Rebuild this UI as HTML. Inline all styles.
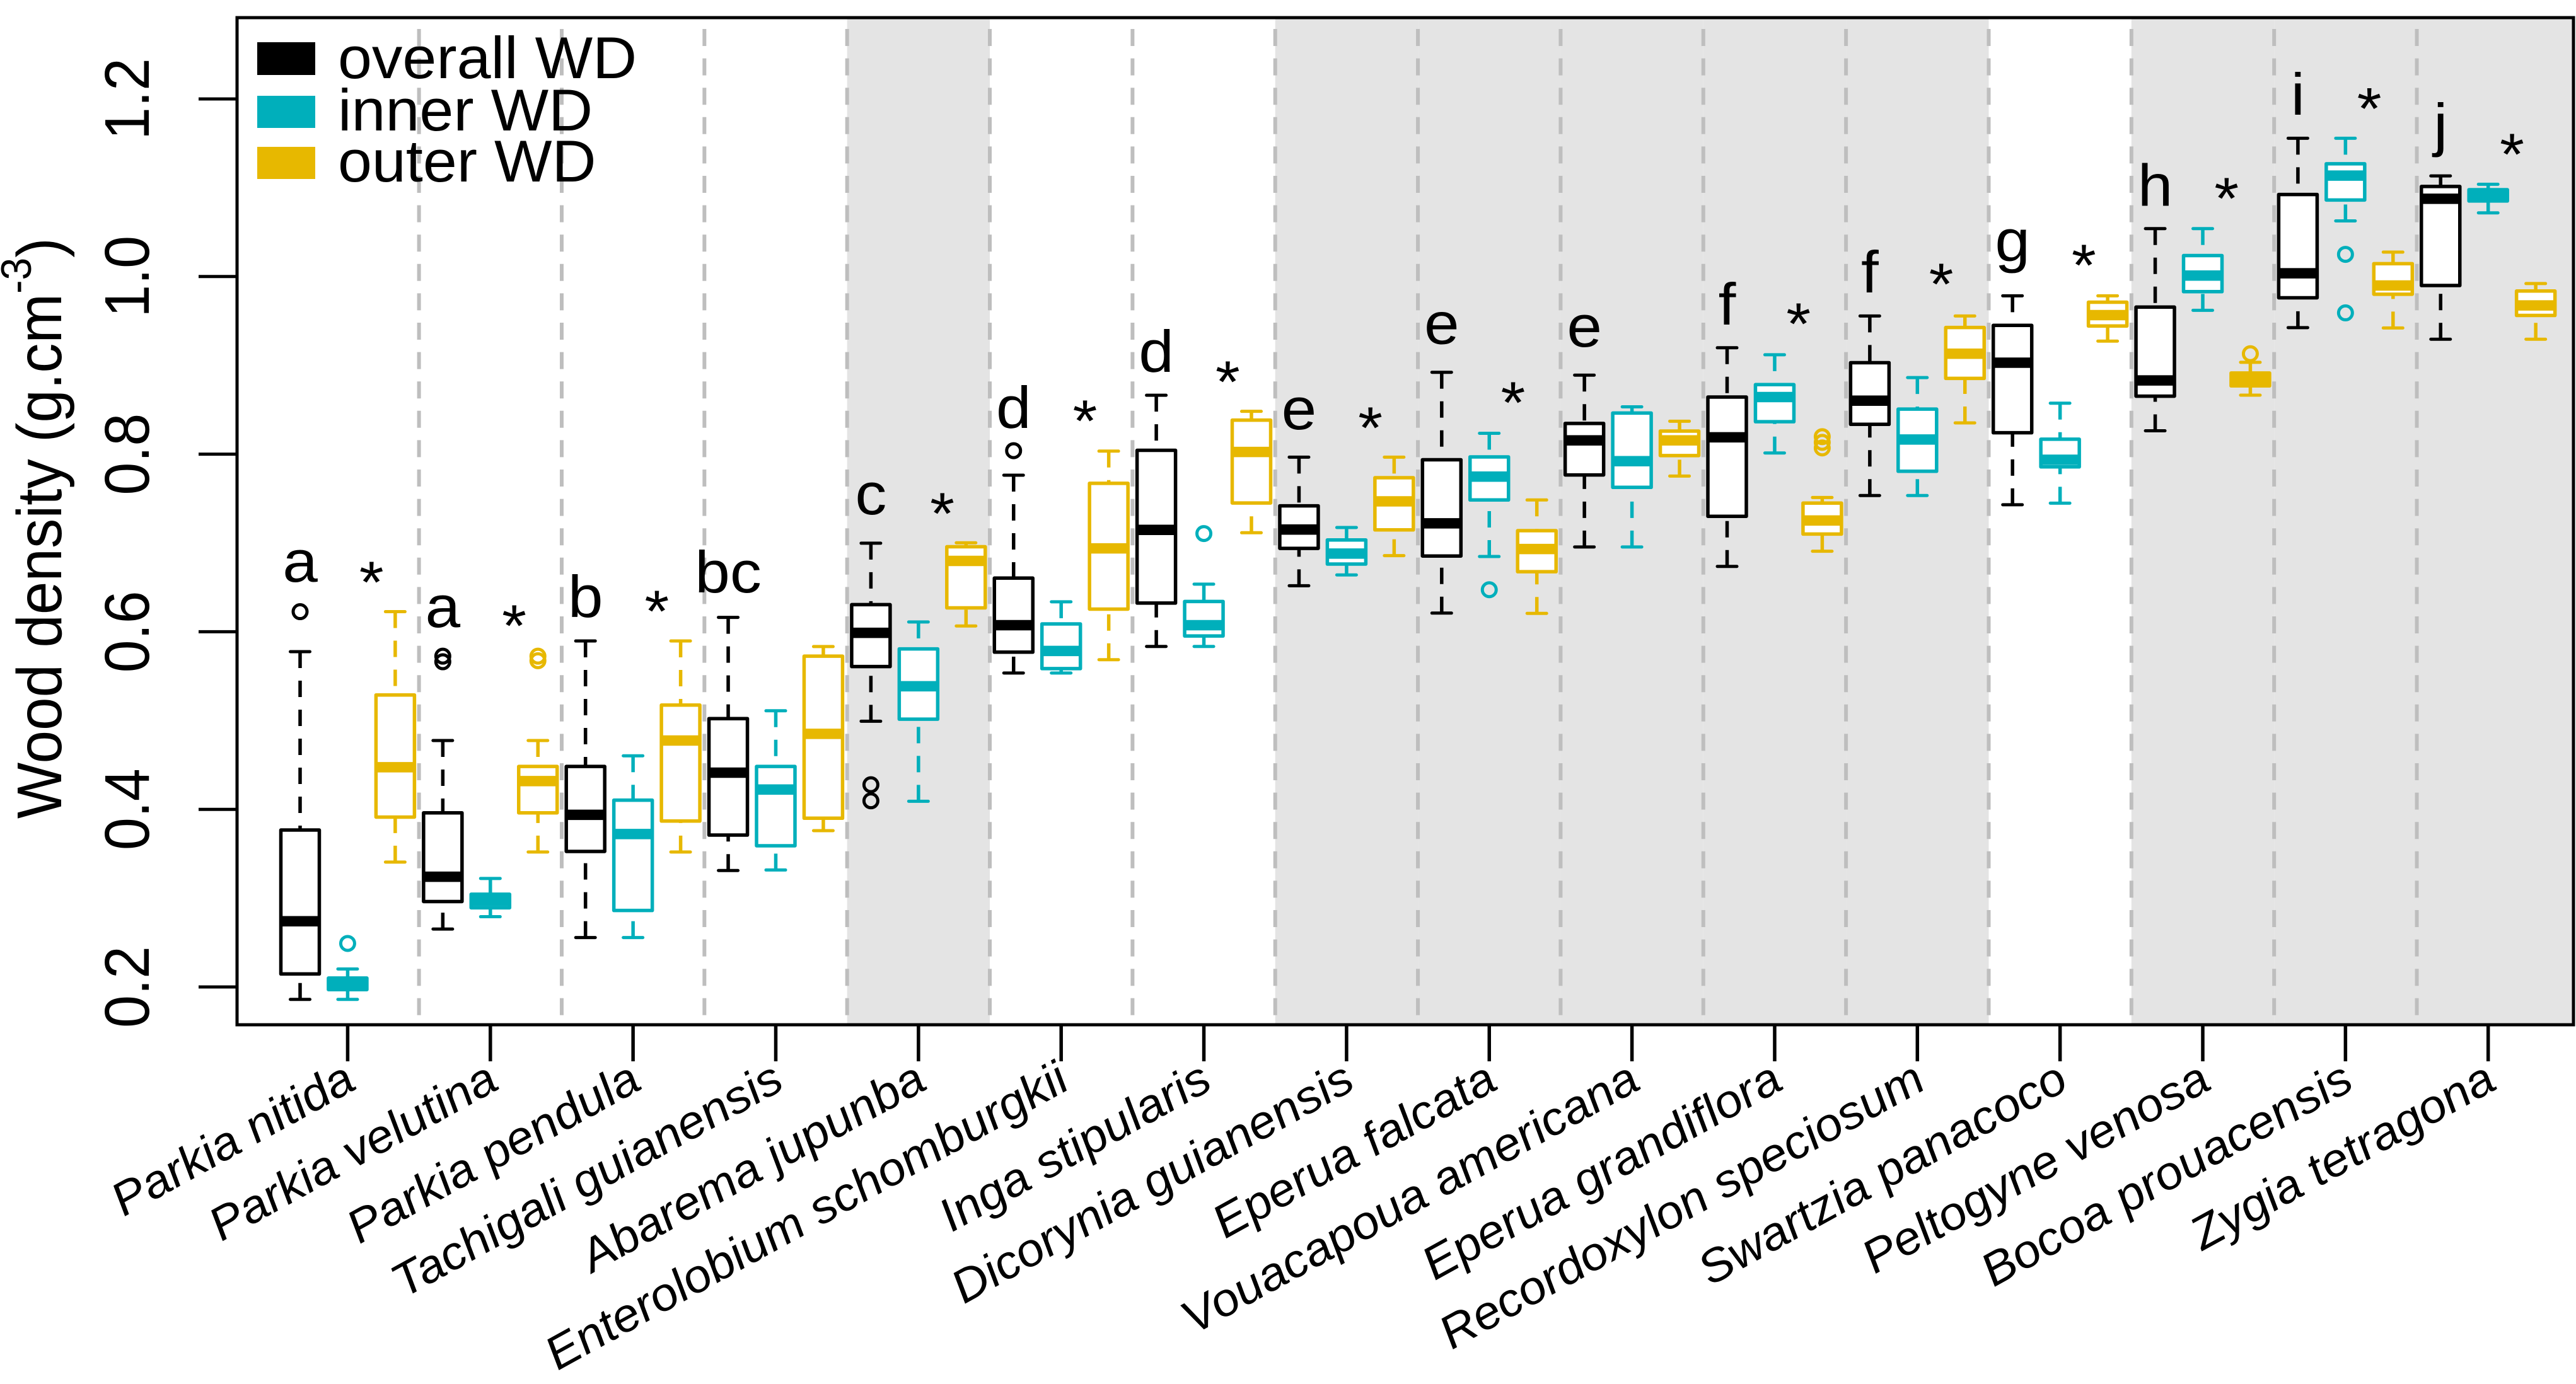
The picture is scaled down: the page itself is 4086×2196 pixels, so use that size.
<!DOCTYPE html>
<html lang="en">
<head>
<meta charset="utf-8">
<title>Wood density by species</title>
<style>
html,body{margin:0;padding:0;background:#fff;}
svg{display:block;}
text{font-family:"Liberation Sans",Arial,sans-serif;fill:#000;}
</style>
</head>
<body>
<svg id="chart" xmlns="http://www.w3.org/2000/svg" width="4086" height="2196" viewBox="0 0 4086 2196">
  <rect x="0" y="0" width="4086" height="2196" fill="#ffffff"/>
  <g id="bands"></g>
  <g id="separators"></g>
  <g id="series"></g>
  <g id="annotations"></g>
  <rect x="376" y="28" width="3706" height="1598" fill="none" stroke="#000" stroke-width="5"/>
  <g id="yaxis"></g>
  <g id="xaxis"></g>
  <text transform="translate(97,1299) rotate(-90) scale(0.945,1)" font-size="100">Wood density (g.cm<tspan dy="-48" font-size="68">-3</tspan><tspan dy="48">)</tspan></text>
  <g>
    <rect x="408" y="67" width="92" height="52" fill="#000000"/>
    <text transform="translate(536,124) scale(1,0.965)" font-size="97">overall WD</text>
    <rect x="408" y="152" width="92" height="51" fill="#00AFBB"/>
    <text transform="translate(536,207) scale(1,0.965)" font-size="97">inner WD</text>
    <rect x="408" y="233" width="92" height="51" fill="#E7B800"/>
    <text transform="translate(536,288) scale(1,0.965)" font-size="97">outer WD</text>
  </g>
</svg>
<script>
const species = ["Parkia nitida","Parkia velutina","Parkia pendula","Tachigali guianensis","Abarema jupunba","Enterolobium schomburgkii","Inga stipularis","Dicorynia guianensis","Eperua falcata","Vouacapoua americana","Eperua grandiflora","Recordoxylon speciosum","Swartzia panacoco","Peltogyne venosa","Bocoa prouacensis","Zygia tetragona"];
const yTickValues = [0.2,0.4,0.6,0.8,1.0,1.2];
const yTickLabels = ["0.2","0.4","0.6","0.8","1.0","1.2"];
const shadedSpecies = [4,7,8,9,10,11,13,14,15];

const overallLow = [0.186,0.2652,0.2556,0.3311,0.4992,0.5535,0.5834,0.6518,0.621,0.6955,0.6736,0.7534,0.743,0.8263,0.9425,0.9294];
const overallQ1 = [0.2146,0.2962,0.3526,0.371,0.5608,0.577,0.6323,0.6939,0.6853,0.7766,0.73,0.8336,0.8241,0.8653,0.9761,0.9899];
const overallMedian = [0.274,0.3241,0.3938,0.4413,0.5988,0.6074,0.7147,0.7151,0.7221,0.8155,0.819,0.8602,0.903,0.883,1.0037,1.0876];
const overallQ3 = [0.3767,0.3961,0.4483,0.5022,0.6305,0.6604,0.8043,0.7418,0.7937,0.8346,0.8643,0.903,0.945,0.9656,1.0924,1.1014];
const overallHigh = [0.5776,0.4775,0.5896,0.6162,0.6997,0.7763,0.8663,0.7966,0.8922,0.889,0.9198,0.9556,0.9783,1.054,1.1557,1.1133];
const overallOutliers = [[0.6226],[0.5725,0.5662],[],[],[0.4277,0.4096],[0.8039],[],[],[],[],[],[],[],[],[],[]];

const innerLow = [0.186,0.2791,0.2556,0.3317,0.4091,0.5535,0.5834,0.664,0.6847,0.6955,0.8013,0.7534,0.7448,0.962,1.0627,1.0717];
const innerQ1 = [0.197,0.2892,0.2861,0.359,0.5015,0.5585,0.5952,0.6762,0.7484,0.7626,0.8365,0.7807,0.7857,0.983,1.0862,1.0851];
const innerMedian = [0.2037,0.2968,0.3722,0.4223,0.5386,0.5784,0.6074,0.688,0.7747,0.7921,0.8643,0.8165,0.7937,1.0011,1.1137,1.0916];
const innerQ3 = [0.21,0.3044,0.4103,0.4483,0.5807,0.6088,0.6341,0.7034,0.7969,0.8463,0.8783,0.8507,0.8168,1.0236,1.127,1.0978];
const innerHigh = [0.2202,0.3222,0.4603,0.511,0.611,0.6337,0.6536,0.7174,0.8235,0.8533,0.9119,0.8862,0.8574,1.054,1.1557,1.1039];
const innerOutliers = [[0.249],[],[],[],[],[],[0.7106],[],[0.6473],[],[],[],[],[],[1.025,0.9591],[]];

const outerLow = [0.3406,0.352,0.352,0.376,0.6065,0.5685,0.7115,0.6857,0.6207,0.7753,0.6907,0.8352,0.9273,0.8664,0.9421,0.9294];
const outerQ1 = [0.3913,0.3961,0.3868,0.39,0.6269,0.6255,0.745,0.7147,0.6676,0.7984,0.71,0.8853,0.9443,0.8769,0.9801,0.9562];
const outerMedian = [0.4474,0.4318,0.4775,0.485,0.6798,0.6939,0.8025,0.7468,0.6932,0.8155,0.7253,0.9131,0.9566,0.8842,0.9899,0.9675];
const outerQ3 = [0.5288,0.4483,0.5174,0.5725,0.6957,0.7672,0.8383,0.7735,0.7138,0.826,0.7449,0.9426,0.9711,0.8914,1.0145,0.9837];
const outerHigh = [0.6226,0.4775,0.5896,0.5833,0.7002,0.8034,0.8482,0.7966,0.7484,0.8371,0.7512,0.9556,0.9783,0.9034,1.0275,0.9921];
const outerOutliers = [[],[0.5725,0.5674],[],[],[],[],[],[],[],[],[0.8197,0.8133,0.807],[],[],[0.9131],[],[]];

const groupLetters = ["a","a","b","bc","c","d","d","e","e","e","f","f","g","h","i","j"];
const letterHeights = [0.6563,0.6052,0.6166,0.6443,0.7323,0.8295,0.8927,0.8281,0.9243,0.9211,0.9459,0.9821,1.0176,1.0797,1.1823,1.1482];
const starHeights = [0.6705,0.6216,0.6379,null,0.7479,0.8522,0.8962,0.8444,0.8728,null,0.9615,1.0062,1.0275,1.1028,1.2039,1.1525];

const NS = "http://www.w3.org/2000/svg";
function yScale(v){ return 1566 - (v - 0.2) * 1409; }
function xScale(p){ return 476 + 75.45 * p; }
function make(tag, parent, attrs, text){
  const el = document.createElementNS(NS, tag);
  for (const k in attrs) el.setAttribute(k, attrs[k]);
  if (text !== undefined) el.textContent = text;
  parent.appendChild(el);
  return el;
}
const bandsG = document.getElementById("bands");
const sepG = document.getElementById("separators");
const seriesG = document.getElementById("series");
const annG = document.getElementById("annotations");
const yG = document.getElementById("yaxis");
const xG = document.getElementById("xaxis");

shadedSpecies.forEach(function(i){
  const x0 = xScale(3 * i - 0.5);
  const x1 = i === species.length - 1 ? 4082 : xScale(3 * i + 2.5);
  const band = make("rect", bandsG, {x:x0, y:28, width:x1 - x0, height:1598, fill:"#E4E4E4"});
  
  
});

for (let i = 0; i < species.length - 1; i++) {
  const xs = xScale(3 * i + 2.5);
  const sep = make("line", sepG, {x1:xs, x2:xs, y1:46, y2:1626, stroke:"#BEBEBE", "stroke-width":6, "stroke-dasharray":"27 19.6"});
  
  
}

const seriesDefs = [
  {key:"overall", color:"#000000", offset:0, low:overallLow, q1:overallQ1, med:overallMedian, q3:overallQ3, high:overallHigh, out:overallOutliers},
  {key:"inner", color:"#00AFBB", offset:1, low:innerLow, q1:innerQ1, med:innerMedian, q3:innerQ3, high:innerHigh, out:innerOutliers},
  {key:"outer", color:"#E7B800", offset:2, low:outerLow, q1:outerQ1, med:outerMedian, q3:outerQ3, high:outerHigh, out:outerOutliers}
];

seriesDefs.forEach(function(s){
  species.forEach(function(name, i){
    const cx = xScale(3 * i + s.offset);
    const g = make("g", seriesG, {});
    
    
    const dash = {stroke:s.color, "stroke-width":5.5, "stroke-dasharray":"26 20"};
    const wUp = make("line", g, Object.assign({x1:cx, x2:cx, y1:yScale(s.high[i]), y2:yScale(s.q3[i])}, dash));
    
    
    const wDn = make("line", g, Object.assign({x1:cx, x2:cx, y1:yScale(s.low[i]), y2:yScale(s.q1[i])}, dash));
    
    
    [s.high[i], s.low[i]].forEach(function(v){
      const cap = make("line", g, {x1:cx - 15.5, x2:cx + 15.5, y1:yScale(v), y2:yScale(v), stroke:s.color, "stroke-width":5, "stroke-linecap":"round"});
      
      
    });
    const top = yScale(s.q3[i]);
    const bottom = yScale(s.q1[i]);
    const box = make("rect", g, {x:cx - 30.5, y:top, width:61, height:bottom - top, fill:"#ffffff", stroke:s.color, "stroke-width":5.5, "stroke-linejoin":"round"});
    
    
    const median = make("line", g, {x1:cx - 30.5, x2:cx + 30.5, y1:yScale(s.med[i]), y2:yScale(s.med[i]), stroke:s.color, "stroke-width":16.5});
    
    
    s.out[i].forEach(function(v){
      const pt = make("circle", g, {cx:cx, cy:yScale(v), r:11, fill:"none", stroke:s.color, "stroke-width":5});
      
      
    });
  });
});

species.forEach(function(name, i){
  const letter = make("text", annG, {transform:"translate(" + xScale(3 * i) + "," + yScale(letterHeights[i]) + ") scale(1,0.935)", "font-size":100, "text-anchor":"middle"}, groupLetters[i]);
  
  
  if (starHeights[i] !== null) {
    const star = make("text", annG, {transform:"translate(" + xScale(3 * i + 1.5) + "," + (yScale(starHeights[i]) + 53) + ") scale(1,0.935)", "font-size":100, "text-anchor":"middle"}, "*");
    
    
  }
});

yTickValues.forEach(function(v, i){
  const yy = yScale(v);
  const tick = make("line", yG, {x1:315, x2:376, y1:yy, y2:yy, stroke:"#000", "stroke-width":5});
  
  
  const label = make("text", yG, {transform:"translate(236," + yy + ") rotate(-90) scale(0.935,1)", "font-size":100, "text-anchor":"middle"}, yTickLabels[i]);
  
  
});

species.forEach(function(name, i){
  const xx = xScale(3 * i + 1);
  const tick = make("line", xG, {x1:xx, x2:xx, y1:1626, y2:1684, stroke:"#000", "stroke-width":5.5});
  
  
  const label = make("text", xG, {transform:"translate(" + (xx + 17) + ",1726) scale(1,0.935) rotate(-30.5)", "font-size":78.5, "font-style":"italic", "text-anchor":"end"}, name);
  
  
});
</script>
</body>
</html>
